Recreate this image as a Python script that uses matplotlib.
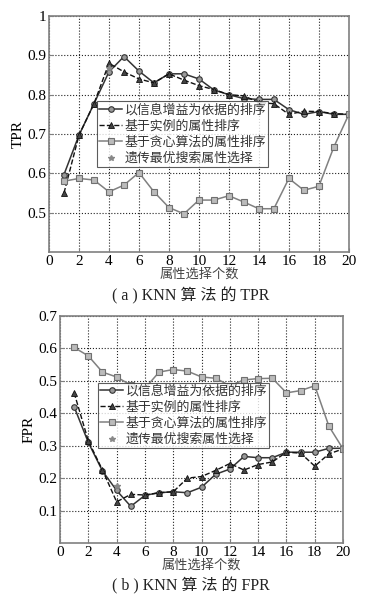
import numpy as np
import matplotlib.pyplot as plt

plt.rcParams['font.family'] = ['Liberation Serif', 'Noto Sans CJK SC']

x = np.arange(1, 21)

labels = ["以信息增益为依据的排序", "基于实例的属性排序", "基于贪心算法的属性排序", "遗传最优搜索属性选择"]

# TPR
tpr_gain = [0.597, 0.697, 0.777, 0.858, 0.897, 0.86, 0.83, 0.853, 0.853, 0.84,
            0.812, 0.80, 0.79, 0.788, 0.788, 0.762, 0.75, 0.757, 0.75, 0.75]
tpr_inst = [0.55, 0.697, 0.777, 0.88, 0.858, 0.84, 0.83, 0.853, 0.837, 0.823,
            0.813, 0.80, 0.797, 0.78, 0.777, 0.75, 0.758, 0.757, 0.752, 0.75]
tpr_greedy = [0.58, 0.587, 0.583, 0.553, 0.57, 0.602, 0.553, 0.513, 0.497, 0.532,
              0.532, 0.543, 0.527, 0.51, 0.51, 0.587, 0.557, 0.567, 0.667, 0.75]
tpr_ga_x = [4]
tpr_ga = [0.868]

# FPR
fpr_gain = [0.42, 0.31, 0.222, 0.162, 0.113, 0.147, 0.155, 0.158, 0.155, 0.172,
            0.212, 0.228, 0.267, 0.263, 0.263, 0.28, 0.28, 0.28, 0.292, 0.292]
fpr_inst = [0.463, 0.315, 0.225, 0.127, 0.15, 0.148, 0.155, 0.158, 0.2, 0.205,
            0.224, 0.245, 0.225, 0.242, 0.25, 0.28, 0.277, 0.237, 0.275, 0.29]
fpr_greedy = [0.603, 0.577, 0.527, 0.512, 0.487, 0.477, 0.527, 0.535, 0.53, 0.512,
              0.508, 0.485, 0.503, 0.507, 0.508, 0.463, 0.47, 0.485, 0.36, 0.29]
fpr_ga_x = [4]
fpr_ga = [0.175]

cjk = ['Noto Sans CJK SC', 'Liberation Serif']
gray = '#808080'

fig = plt.figure(figsize=(3.81, 6.04), dpi=100)
ax1 = fig.add_axes([0.1286, 0.5828, 0.787, 0.3907])
ax2 = fig.add_axes([0.1575, 0.101, 0.743, 0.3758])


def draw(ax, g, i, s, gx, gy, ylim, yticks, ylabels, ylab, anchor):
    ax.plot(x, g, '-', color='#333333', lw=1.1, marker='o', ms=4,
            mfc='#999999', mec='#333333', mew=0.8, label=labels[0])
    ax.plot(x, i, '--', color='#111111', lw=1.0, marker='^', ms=4,
            mfc='#444444', mec='#111111', mew=0.6, label=labels[1])
    ax.plot(x, s, '-', color=gray, lw=1.1, marker='s', ms=4,
            mfc='#bbbbbb', mec='#707070', mew=0.8, label=labels[2])
    ax.plot(gx, gy, '*', color='#888888', ms=4, ls='none', label=labels[3])
    ax.set_xlim(0, 20)
    ax.set_ylim(*ylim)
    ax.set_xticks(np.arange(0, 21, 2))
    ax.set_yticks(yticks)
    ax.set_yticklabels(ylabels)
    ax.grid(True, ls=':', color='#222222', lw=0.8)
    ax.tick_params(direction='in', labelsize=11, length=3, color=gray, pad=2)
    for sp in ax.spines.values():
        sp.set_color(gray)
        sp.set_linewidth(1.2)
    ax.set_ylabel(ylab, fontsize=11, labelpad=2)
    ax.set_xlabel("属性选择个数", family=cjk, fontsize=9.5, color='#444444', labelpad=0)
    leg = ax.legend(loc='lower left', bbox_to_anchor=anchor,
                    prop={'family': cjk, 'size': 9.3}, frameon=True, fancybox=False,
                    borderpad=0.15, labelspacing=0.25, handlelength=1.8,
                    handletextpad=0.2, borderaxespad=0)
    leg.get_frame().set_edgecolor('#333333')
    leg.get_frame().set_linewidth(0.8)
    for t in leg.get_texts():
        t.set_color('#333333')


draw(ax1, tpr_gain, tpr_inst, tpr_greedy, tpr_ga_x, tpr_ga, (0.4, 1.0),
     [0.5, 0.6, 0.7, 0.8, 0.9, 1.0], ['0.5', '0.6', '0.7', '0.8', '0.9', '1'], 'TPR',
     (0.16, 0.36))
draw(ax2, fpr_gain, fpr_inst, fpr_greedy, fpr_ga_x, fpr_ga, (0.0, 0.7),
     [0.1, 0.2, 0.3, 0.4, 0.5, 0.6, 0.7], ['0.1', '0.2', '0.3', '0.4', '0.5', '0.6', '0.7'], 'FPR',
     (0.134, 0.418))

fig.text(0.5, 1 - 296 / 604, "( a ) KNN 算 法 的 TPR", fontsize=11.5,
         ha='center', va='center', color='#222222')
fig.text(0.5, 1 - 586 / 604, "( b ) KNN 算 法 的 FPR", fontsize=11.5,
         ha='center', va='center', color='#222222')

fig.savefig('out.png', dpi=100)
